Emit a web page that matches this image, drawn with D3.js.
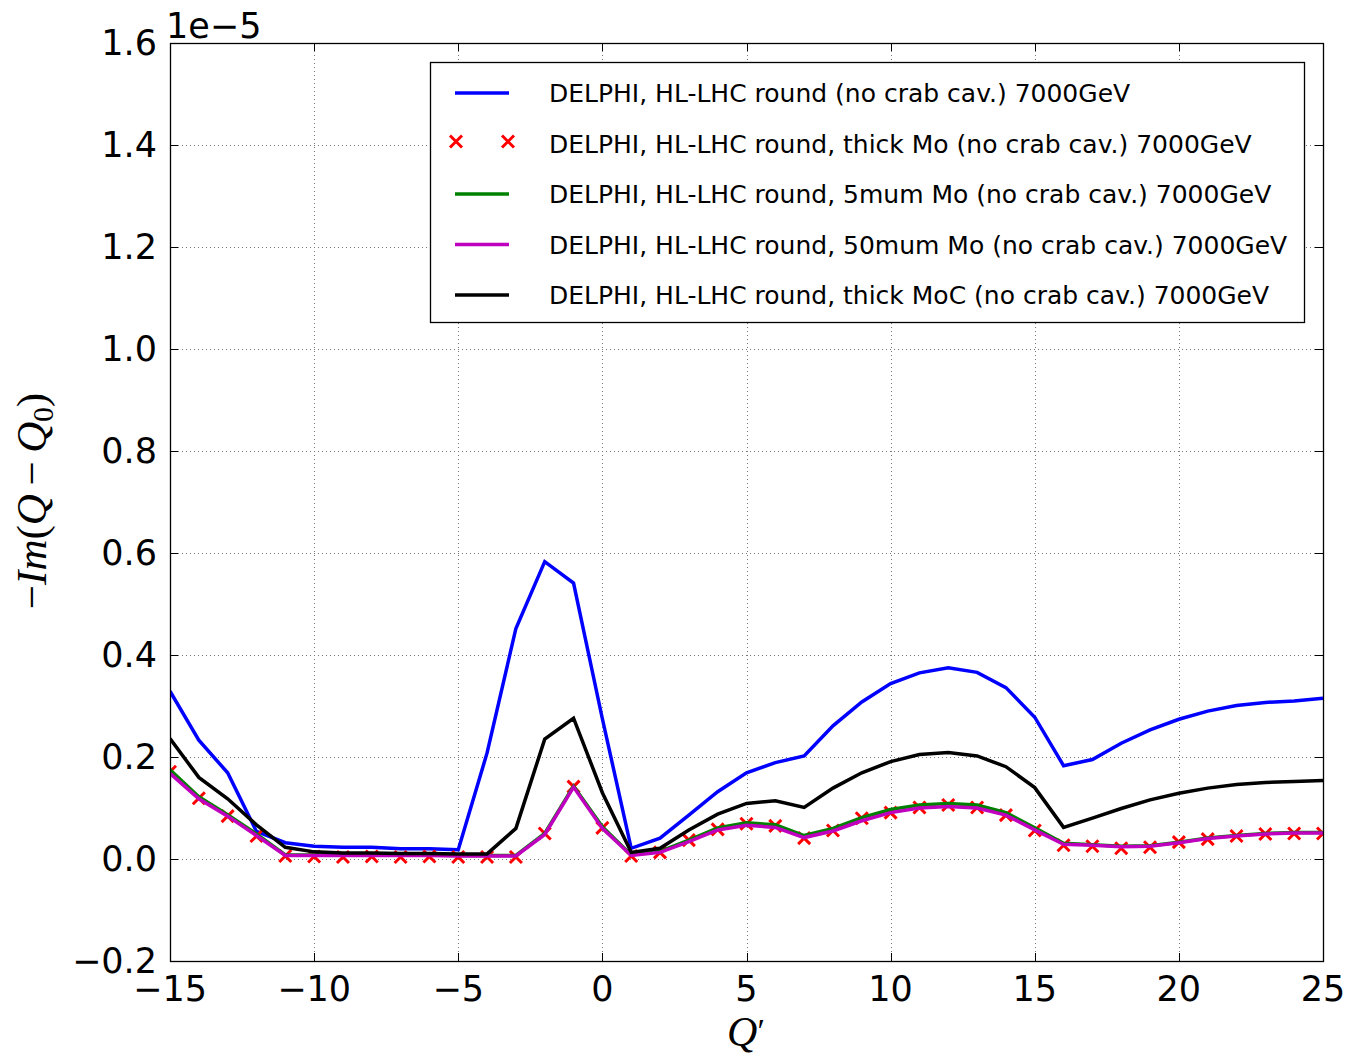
<!DOCTYPE html>
<html>
<head>
<meta charset="utf-8">
<script src="https://cdn.jsdelivr.net/npm/d3@7"></script>
<style>
  body { margin: 0; background: #fff; }
  svg { display: block; }
</style>
</head>
<body>
<svg id="main" width="1349" height="1058"></svg>
<script>
// Q' values (chromaticity)
const qprime = [-15, -14, -13, -12, -11, -10, -9, -8, -7, -6, -5, -4, -3, -2, -1, 0,
    1, 2, 3, 4, 5, 6, 7, 8, 9, 10, 11, 12, 13, 14, 15, 16, 17, 18, 19, 20, 21, 22, 23, 24, 25];

// -Im(Q-Q0), in units of 1e-5
const roundNoCrab = [0.329, 0.233, 0.169, 0.054, 0.032, 0.025, 0.023, 0.023, 0.020, 0.020, 0.018,
    0.208, 0.452, 0.583, 0.541, 0.275, 0.021, 0.041, 0.086, 0.132, 0.169, 0.189, 0.202, 0.261,
    0.308, 0.344, 0.365, 0.375, 0.366, 0.336, 0.278, 0.183, 0.195, 0.227, 0.253, 0.274, 0.290,
    0.301, 0.307, 0.310, 0.315];
const thickMo = [0.171, 0.119, 0.084, 0.045, 0.006, 0.005, 0.004, 0.005, 0.004, 0.005, 0.004,
    0.004, 0.004, 0.050, 0.142, 0.061, 0.006, 0.013, 0.037, 0.058, 0.069, 0.065, 0.041, 0.056,
    0.080, 0.091, 0.101, 0.106, 0.101, 0.086, 0.056, 0.027, 0.025, 0.021, 0.023, 0.033, 0.039,
    0.045, 0.049, 0.050, 0.050];
const mo5mum = [0.175, 0.122, 0.087, 0.049, 0.008, 0.008, 0.008, 0.008, 0.008, 0.008, 0.007,
    0.007, 0.007, 0.050, 0.143, 0.063, 0.008, 0.015, 0.037, 0.061, 0.071, 0.067, 0.046, 0.060,
    0.081, 0.097, 0.106, 0.109, 0.106, 0.091, 0.061, 0.031, 0.028, 0.025, 0.026, 0.033, 0.041,
    0.046, 0.050, 0.052, 0.052];
const mo50mum = [0.168, 0.118, 0.084, 0.046, 0.007, 0.007, 0.007, 0.007, 0.007, 0.007, 0.006,
    0.006, 0.006, 0.048, 0.141, 0.060, 0.007, 0.013, 0.034, 0.057, 0.066, 0.062, 0.042, 0.055,
    0.075, 0.091, 0.100, 0.103, 0.100, 0.086, 0.057, 0.029, 0.027, 0.024, 0.025, 0.032, 0.040,
    0.045, 0.049, 0.051, 0.051];
const thickMoC = [0.236, 0.160, 0.118, 0.067, 0.023, 0.014, 0.012, 0.012, 0.011, 0.011, 0.010,
    0.010, 0.060, 0.235, 0.276, 0.130, 0.013, 0.021, 0.057, 0.088, 0.109, 0.114, 0.101, 0.139,
    0.169, 0.191, 0.205, 0.209, 0.202, 0.181, 0.140, 0.062, 0.080, 0.099, 0.116, 0.129, 0.139,
    0.146, 0.150, 0.152, 0.154];

const xTicks = [-15, -10, -5, 0, 5, 10, 15, 20, 25];
const yTicks = [-0.2, 0.0, 0.2, 0.4, 0.6, 0.8, 1.0, 1.2, 1.4, 1.6];

const series = [
    { label: "DELPHI, HL-LHC round (no crab cav.) 7000GeV", values: roundNoCrab, color: "#0000ff", kind: "line" },
    { label: "DELPHI, HL-LHC round, thick Mo (no crab cav.) 7000GeV", values: thickMo, color: "#ff0000", kind: "cross" },
    { label: "DELPHI, HL-LHC round, 5mum Mo (no crab cav.) 7000GeV", values: mo5mum, color: "#008000", kind: "line" },
    { label: "DELPHI, HL-LHC round, 50mum Mo (no crab cav.) 7000GeV", values: mo50mum, color: "#bf00bf", kind: "line" },
    { label: "DELPHI, HL-LHC round, thick MoC (no crab cav.) 7000GeV", values: thickMoC, color: "#000000", kind: "line" },
];

/////////////////////////////////////////////////////////

const svg = d3.select("#main");
const pLeft = 170, pRight = 1323, pTop = 43, pBottom = 961;
const font = "'DejaVu Sans', sans-serif";
const minus = s => s.replace("-", "\u2212");

const x = d3.scaleLinear().domain([-15, 25]).range([pLeft, pRight]);
const y = d3.scaleLinear().domain([-0.2, 1.6]).range([pBottom, pTop]);

svg.append("defs").append("clipPath").attr("id", "plot")
    .append("rect")
    .attr("x", pLeft).attr("y", pTop)
    .attr("width", pRight - pLeft).attr("height", pBottom - pTop);

// grid
const grid = svg.append("g").attr("stroke", "#777").attr("stroke-width", 1)
    .attr("stroke-dasharray", "1,3").attr("fill", "none");
grid.selectAll(".gx").data(xTicks.slice(1, -1)).enter().append("line")
    .attr("x1", d => Math.round(x(d)) + 0.5).attr("x2", d => Math.round(x(d)) + 0.5)
    .attr("y1", pTop).attr("y2", pBottom);
grid.selectAll(".gy").data(yTicks.slice(1, -1)).enter().append("line")
    .attr("y1", d => Math.round(y(d)) + 0.5).attr("y2", d => Math.round(y(d)) + 0.5)
    .attr("x1", pLeft).attr("x2", pRight);

// series
const plot = svg.append("g").attr("clip-path", "url(#plot)");
const line = d3.line().x((d, i) => x(qprime[i])).y(d => y(d));

series.forEach(s => {
    if (s.kind === "line") {
        plot.append("path")
            .datum(s.values)
            .attr("d", line)
            .attr("fill", "none")
            .attr("stroke", s.color)
            .attr("stroke-width", 3.5)
            .attr("stroke-linejoin", "miter");
    } else {
        plot.append("g").selectAll("path")
            .data(s.values)
            .enter()
            .append("path")
            .attr("transform", (d, i) => `translate(${x(qprime[i])}, ${y(d)})`)
            .attr("d", "M-6,-6L6,6M-6,6L6,-6")
            .attr("stroke", s.color)
            .attr("stroke-width", 3)
            .attr("fill", "none");
    }
});

// ticks (inward, on all four sides)
const axisG = svg.append("g").attr("stroke", "#000").attr("stroke-width", 1);
xTicks.forEach(t => {
    const px = Math.round(x(t)) + 0.5;
    axisG.append("line").attr("x1", px).attr("x2", px).attr("y1", pBottom).attr("y2", pBottom - 8);
    axisG.append("line").attr("x1", px).attr("x2", px).attr("y1", pTop).attr("y2", pTop + 8);
});
yTicks.forEach(t => {
    const py = Math.round(y(t)) + 0.5;
    axisG.append("line").attr("y1", py).attr("y2", py).attr("x1", pLeft).attr("x2", pLeft + 8);
    axisG.append("line").attr("y1", py).attr("y2", py).attr("x1", pRight).attr("x2", pRight - 8);
});

// frame
svg.append("rect")
    .attr("x", pLeft + 0.5).attr("y", pTop + 0.5)
    .attr("width", pRight - pLeft).attr("height", pBottom - pTop)
    .attr("fill", "none").attr("stroke", "#000").attr("stroke-width", 1.3);

// tick labels
svg.append("g").selectAll("text").data(xTicks).enter().append("text")
    .attr("x", d => x(d)).attr("y", 1001)
    .attr("text-anchor", "middle")
    .attr("font-family", font).attr("font-size", 35)
    .text(d => minus(String(d)));

svg.append("g").selectAll("text").data(yTicks).enter().append("text")
    .attr("x", 157).attr("y", d => y(d) + 12)
    .attr("text-anchor", "end")
    .attr("font-family", font).attr("font-size", 35)
    .text(d => minus(d.toFixed(1)));

// offset text
svg.append("text").attr("x", 166).attr("y", 38)
    .attr("font-family", font).attr("font-size", 35)
    .text("1e\u22125");

// axis labels
const xl = svg.append("text").attr("x", 746).attr("y", 1046)
    .attr("text-anchor", "middle")
    .attr("font-family", "'Liberation Serif', serif").attr("font-style", "italic").attr("font-size", 42);
xl.append("tspan").text("Q");
xl.append("tspan").attr("dy", -4).attr("font-style", "normal").attr("font-size", 34).text("\u2032");

const yl = svg.append("text")
    .attr("transform", "translate(46, 501) rotate(-90)")
    .attr("text-anchor", "middle")
    .attr("font-family", "'Liberation Serif', serif").attr("font-size", 43);
yl.append("tspan").text("\u2212");
yl.append("tspan").attr("font-style", "italic").text("Im");
yl.append("tspan").text("(");
yl.append("tspan").attr("font-style", "italic").text("Q");
yl.append("tspan").text("\u2009\u2212\u2009");
yl.append("tspan").attr("font-style", "italic").text("Q");
yl.append("tspan").attr("dy", 7).attr("font-size", 29).text("0");
yl.append("tspan").attr("dy", -7).text(")");

// legend
const legend = svg.append("g");
legend.append("rect")
    .attr("x", 430.5).attr("y", 62.5).attr("width", 874).attr("height", 260)
    .attr("fill", "#fff").attr("stroke", "#000").attr("stroke-width", 1.3);

const rowY = d3.scalePoint().domain(series.map(s => s.label)).range([93, 295]);
series.forEach(s => {
    const ry = rowY(s.label);
    if (s.kind === "line") {
        legend.append("line")
            .attr("x1", 455).attr("x2", 509).attr("y1", ry).attr("y2", ry)
            .attr("stroke", s.color).attr("stroke-width", 3.5);
    } else {
        [456, 508].forEach(cx => {
            legend.append("path")
                .attr("transform", `translate(${cx}, ${ry - 2})`)
                .attr("d", "M-6,-6L6,6M-6,6L6,-6")
                .attr("stroke", s.color).attr("stroke-width", 3).attr("fill", "none");
        });
    }
    legend.append("text")
        .attr("x", 549).attr("y", ry + 9)
        .attr("font-family", font).attr("font-size", 25)
        .text(s.label);
});
</script>
</body>
</html>
